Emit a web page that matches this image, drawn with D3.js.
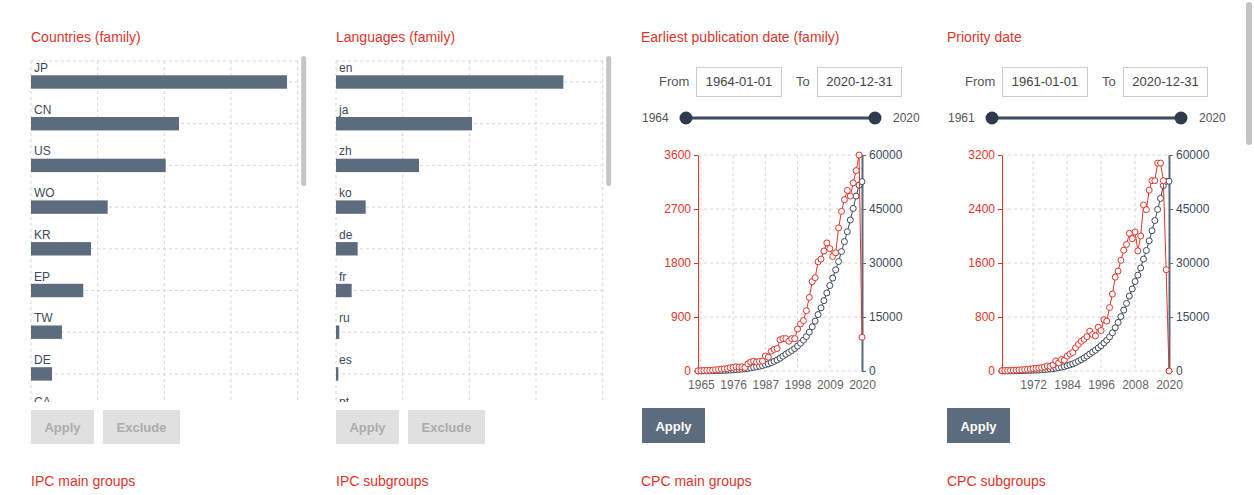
<!DOCTYPE html>
<html>
<head>
<meta charset="utf-8">
<script src="https://cdn.jsdelivr.net/npm/d3@7"></script>
<style>
  body { margin: 0; background: #fff; overflow: hidden; }
  svg { font-family: "Liberation Sans", Arial, sans-serif; display: block; }
</style>
</head>
<body>
<div id="page"></div>
<script>
var svgWidth = 1254;
var svgHeight = 495;

var red = "#e0352b";
var slate = "#5d6b7e";
var ink = "#3d4a5c";
var gridColor = "#d6d6d6";

// bar panels
var countryNames = ["JP", "CN", "US", "WO", "KR", "EP", "TW", "DE", "CA"];
var countryCounts = [19200, 11100, 10100, 5750, 4500, 3920, 2320, 1580, 1100];
var languageNames = ["en", "ja", "zh", "ko", "de", "fr", "ru", "es", "pt"];
var languageCounts = [34100, 20400, 12450, 4450, 3250, 2350, 500, 350, 200];

// earliest publication date (family), per year and running total
var pubYears = d3.range(1964, 2021);
var pubCounts = [3, 5, 8, 10, 12, 15, 20, 25, 30, 35, 40, 55, 60, 70, 66, 70, 60,
  120, 150, 165, 150, 160, 165, 250, 230, 330, 360, 375, 520, 540, 540, 497, 540,
  540, 700, 785, 840, 1005, 1225, 1490, 1555, 1820, 1865, 2000, 2135, 2040, 1910,
  1970, 2385, 2660, 2855, 3010, 2915, 3135, 3340, 3600, 563];
var pubTotals = [3, 8, 16, 26, 40, 55, 75, 100, 130, 165, 205, 260, 320, 390, 455,
  525, 585, 705, 855, 1020, 1170, 1330, 1500, 1750, 1980, 2310, 2670, 3050, 3570,
  4110, 4650, 5150, 5690, 6230, 6930, 7720, 8560, 9570, 10800, 12290, 13850, 15670,
  17540, 19540, 21680, 23720, 25800, 28100, 30400, 33180, 35940, 38700, 41940,
  45150, 48580, 51600, 52600];
var pubTicks = [1965, 1976, 1987, 1998, 2009, 2020];
var pubLeftTicks = [0, 900, 1800, 2700, 3600];

// priority date, per year and running total
var prioYears = d3.range(1961, 2021);
var prioCounts = [5, 6, 8, 10, 12, 14, 16, 18, 22, 25, 30, 35, 40, 45, 50, 60, 75,
  70, 90, 150, 120, 170, 160, 220, 250, 275, 345, 395, 440, 470, 510, 590, 540,
  520, 650, 600, 760, 740, 940, 1140, 1390, 1480, 1640, 1790, 1875, 2040, 1960,
  2060, 1780, 2000, 2460, 2390, 2680, 2820, 2820, 3080, 3080, 2820, 1500, 0];
var prioTotals = [5, 11, 19, 29, 41, 55, 71, 89, 111, 136, 166, 201, 241, 286, 336,
  396, 471, 541, 631, 781, 901, 1071, 1231, 1451, 1700, 1975, 2320, 2715, 3155,
  3625, 4135, 4725, 5265, 5785, 6435, 7035, 7795, 8535, 9475, 10615, 12005, 13485,
  15125, 16915, 18790, 20830, 22790, 24850, 26630, 28630, 31090, 33480, 36160,
  38980, 41800, 44880, 47960, 51500, 52700, 52700];
var prioTicks = [1972, 1984, 1996, 2008, 2020];
var prioLeftTicks = [0, 800, 1600, 2400, 3200];

var rightTicks = [0, 15000, 30000, 45000, 60000];

var panelTitles = ["Countries (family)", "Languages (family)", "Earliest publication date (family)", "Priority date"];
var lowerTitles = ["IPC main groups", "IPC subgroups", "CPC main groups", "CPC subgroups"];
var panelX = [31, 336, 641, 947];

var svg = d3.select("#page")
  .append("svg")
  .attr("width", svgWidth)
  .attr("height", svgHeight);

// section titles
svg.selectAll(".title")
  .data(panelTitles)
  .enter()
  .append("text")
  .attr("x", (d, i) => panelX[i])
  .attr("y", 42)
  .attr("fill", red)
  .attr("font-size", 14)
  .text(d => d);

svg.selectAll(".lowerTitle")
  .data(lowerTitles)
  .enter()
  .append("text")
  .attr("x", (d, i) => panelX[i])
  .attr("y", 486)
  .attr("fill", red)
  .attr("font-size", 14)
  .text(d => d);

function button(x, y, w, h, label, active) {
  svg.append("rect")
    .attr("x", x).attr("y", y)
    .attr("width", w).attr("height", h)
    .attr("fill", active ? slate : "#e0e0e0");
  svg.append("text")
    .attr("x", x + w / 2).attr("y", y + h / 2 + 5)
    .attr("text-anchor", "middle")
    .attr("font-size", 13)
    .attr("font-weight", "bold")
    .attr("fill", active ? "#fff" : "#acacac")
    .text(label);
}

// horizontal bar list inside a scrolling box
function barPanel(id, left, names, counts, maxCount) {
  var plotW = 266.7;
  var top = 61;
  var rowH = 41.7;

  svg.append("clipPath")
    .attr("id", id)
    .append("rect")
    .attr("x", left - 4).attr("y", 55)
    .attr("width", plotW + 8).attr("height", 347);

  var g = svg.append("g").attr("clip-path", `url(#${id})`);

  var xScale = d3.scaleLinear().domain([0, maxCount]).range([left, left + plotW]);
  var yScale = d3.scaleBand().domain(names).range([top, top + names.length * rowH]);

  g.selectAll(".vgrid")
    .data(xScale.ticks(4))
    .enter()
    .append("line")
    .attr("x1", d => xScale(d)).attr("x2", d => xScale(d))
    .attr("y1", top).attr("y2", 450)
    .attr("stroke", gridColor)
    .attr("stroke-dasharray", "3,3");

  g.append("line")
    .attr("x1", left).attr("x2", left + plotW)
    .attr("y1", top).attr("y2", top)
    .attr("stroke", gridColor)
    .attr("stroke-dasharray", "3,3");

  g.selectAll(".hgrid")
    .data(names)
    .enter()
    .append("line")
    .attr("x1", left).attr("x2", left + plotW)
    .attr("y1", d => yScale(d) + 21).attr("y2", d => yScale(d) + 21)
    .attr("stroke", gridColor)
    .attr("stroke-dasharray", "3,3");

  g.selectAll(".bar")
    .data(counts)
    .enter()
    .append("rect")
    .attr("x", left)
    .attr("y", (d, i) => yScale(names[i]) + 14.3)
    .attr("width", d => xScale(d) - left)
    .attr("height", 13.4)
    .attr("fill", slate);

  g.selectAll(".label")
    .data(names)
    .enter()
    .append("text")
    .attr("x", left + 3)
    .attr("y", d => yScale(d) + 11)
    .attr("font-size", 12)
    .attr("fill", ink)
    .text(d => d);

  // scroll thumb
  svg.append("rect")
    .attr("x", left + plotW + 3.5).attr("y", 56)
    .attr("width", 5).attr("height", 130)
    .attr("rx", 2.5)
    .attr("fill", "#c6c6c6");

  button(left, 410, 63, 34, "Apply", false);
  button(left + 72, 410, 77, 34, "Exclude", false);
}

barPanel("clipCountries", 31, countryNames, countryCounts, 20000);
barPanel("clipLanguages", 336, languageNames, languageCounts, 40000);

// date range inputs and slider
function dateControls(px, fromText, toText, firstYear, lastYear) {
  svg.append("text").attr("x", px + 18).attr("y", 86)
    .attr("font-size", 13).attr("fill", "#555").text("From");
  svg.append("rect").attr("x", px + 55.5).attr("y", 67.5)
    .attr("width", 85).attr("height", 29)
    .attr("fill", "#fff").attr("stroke", "#ccc");
  svg.append("text").attr("x", px + 98).attr("y", 86)
    .attr("text-anchor", "middle").attr("font-size", 13).attr("fill", "#444").text(fromText);

  svg.append("text").attr("x", px + 155).attr("y", 86)
    .attr("font-size", 13).attr("fill", "#555").text("To");
  svg.append("rect").attr("x", px + 176.5).attr("y", 67.5)
    .attr("width", 84).attr("height", 29)
    .attr("fill", "#fff").attr("stroke", "#ccc");
  svg.append("text").attr("x", px + 218.5).attr("y", 86)
    .attr("text-anchor", "middle").attr("font-size", 13).attr("fill", "#444").text(toText);

  var sx = d3.scaleLinear().domain([firstYear, lastYear]).range([px + 45, px + 234]);
  svg.append("text").attr("x", px + 1).attr("y", 122)
    .attr("font-size", 12).attr("fill", "#555").text(firstYear);
  svg.append("text").attr("x", px + 252).attr("y", 122)
    .attr("font-size", 12).attr("fill", "#555").text(lastYear);
  svg.append("line")
    .attr("x1", sx(firstYear)).attr("x2", sx(lastYear))
    .attr("y1", 118).attr("y2", 118)
    .attr("stroke", ink).attr("stroke-width", 3);
  svg.selectAll(null)
    .data([firstYear, lastYear])
    .enter()
    .append("circle")
    .attr("cx", d => sx(d)).attr("cy", 118).attr("r", 6.5)
    .attr("fill", "#2f3b4c");
}

dateControls(641, "1964-01-01", "2020-12-31", 1964, 2020);
dateControls(947, "1961-01-01", "2020-12-31", 1961, 2020);

// dual axis line chart: yearly count (left, red) and running total (right, dark)
function lineChart(x0, x1, years, counts, totals, xTicks, leftTicks) {
  var top = 155, bottom = 371;
  var xScale = d3.scaleLinear().domain([years[0], years[years.length - 1]]).range([x0, x1]);
  var yLeft = d3.scaleLinear().domain([0, leftTicks[leftTicks.length - 1]]).range([bottom, top]);
  var yRight = d3.scaleLinear().domain([0, rightTicks[rightTicks.length - 1]]).range([bottom, top]);

  var g = svg.append("g");

  g.selectAll(".hg")
    .data(leftTicks)
    .enter()
    .append("line")
    .attr("x1", x0).attr("x2", x1)
    .attr("y1", d => yLeft(d)).attr("y2", d => yLeft(d))
    .attr("stroke", gridColor)
    .attr("stroke-dasharray", "3,3");

  g.selectAll(".vg")
    .data(xTicks)
    .enter()
    .append("line")
    .attr("x1", d => xScale(d)).attr("x2", d => xScale(d))
    .attr("y1", top).attr("y2", bottom)
    .attr("stroke", gridColor)
    .attr("stroke-dasharray", "3,3");

  var bottomAxis = d3.axisBottom(xScale)
    .tickValues(xTicks)
    .tickFormat(d3.format("d"))
    .tickSize(0)
    .tickPadding(9);
  var xAxis = g.append("g")
    .attr("transform", `translate(0, ${bottom})`)
    .call(bottomAxis);
  xAxis.select(".domain").remove();
  xAxis.selectAll("text").attr("font-size", 12).attr("fill", "#666").attr("font-family", null);

  var leftAxis = d3.axisLeft(yLeft).tickValues(leftTicks).tickFormat(d3.format("d"))
    .tickSize(4).tickSizeOuter(0);
  var lAxis = g.append("g")
    .attr("transform", `translate(${x0}, 0)`)
    .call(leftAxis);
  lAxis.select(".domain").attr("stroke", red);
  lAxis.selectAll(".tick line").attr("stroke", red);
  lAxis.selectAll("text").attr("font-size", 12).attr("fill", red).attr("font-family", null);

  var rightAxis = d3.axisRight(yRight).tickValues(rightTicks).tickFormat(d3.format("d"))
    .tickSize(4).tickSizeOuter(0);
  var rAxis = g.append("g")
    .attr("transform", `translate(${x1}, 0)`)
    .call(rightAxis);
  rAxis.select(".domain").attr("stroke", slate).attr("stroke-width", 2);
  rAxis.selectAll(".tick line").attr("stroke", slate);
  rAxis.selectAll("text").attr("font-size", 12).attr("fill", ink).attr("font-family", null);

  var redLine = d3.line().x((d, i) => xScale(years[i])).y(d => yLeft(d));
  var darkLine = d3.line().x((d, i) => xScale(years[i])).y(d => yRight(d));

  g.append("path")
    .attr("d", darkLine(totals))
    .attr("fill", "none").attr("stroke", ink).attr("stroke-width", 1);
  g.selectAll(".dot2")
    .data(totals)
    .enter()
    .append("circle")
    .attr("cx", (d, i) => xScale(years[i])).attr("cy", d => yRight(d))
    .attr("r", 3)
    .attr("fill", "#fff").attr("stroke", ink).attr("stroke-width", 1);

  g.append("path")
    .attr("d", redLine(counts))
    .attr("fill", "none").attr("stroke", red).attr("stroke-width", 1);
  g.selectAll(".dot1")
    .data(counts)
    .enter()
    .append("circle")
    .attr("cx", (d, i) => xScale(years[i])).attr("cy", d => yLeft(d))
    .attr("r", 3)
    .attr("fill", "#fff").attr("stroke", red).attr("stroke-width", 1);
}

lineChart(698, 862, pubYears, pubCounts, pubTotals, pubTicks, pubLeftTicks);
lineChart(1002, 1169, prioYears, prioCounts, prioTotals, prioTicks, prioLeftTicks);

button(642, 408, 63, 35, "Apply", true);
button(947, 408, 63, 35, "Apply", true);

// page scrollbar
svg.append("rect")
  .attr("x", 1246).attr("y", 2)
  .attr("width", 6).attr("height", 143)
  .attr("rx", 3)
  .attr("fill", "#c4c4c4");
</script>
</body>
</html>
